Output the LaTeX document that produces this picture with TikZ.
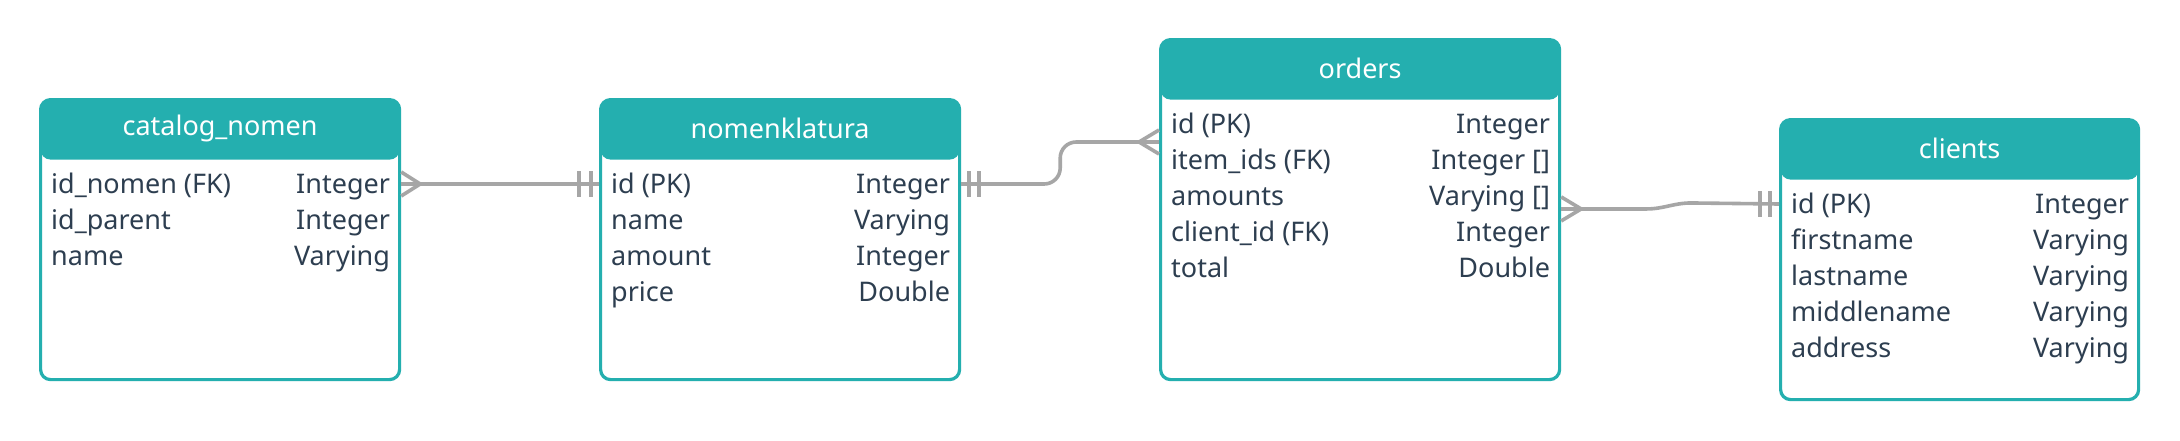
\documentclass[tikz,border=0pt]{standalone}
\usepackage{fontspec}
\setmainfont{Noto Sans}
\usetikzlibrary{calc}
\definecolor{erteal}{HTML}{24AFAF}
\definecolor{erink}{HTML}{2D3E50}
\definecolor{erline}{HTML}{A6A6A6}
\begin{document}
\begin{tikzpicture}[x=1pt, y=-1pt, font=\fontsize{27}{32}\selectfont,
  tbl/.style={draw=erteal, line width=3.2pt, rounded corners=10pt, fill=white, anchor=north west, inner sep=0pt,
    path picture={\fill[erteal] (path picture bounding box.north west) rectangle ([yshift=-60pt]path picture bounding box.north east);}},
  ttl/.style={text=white, inner sep=0pt},
  fld/.style={text=erink, inner sep=0pt, text height=19.3pt, text depth=0pt},
  rel/.style={draw=erline, line width=3.6pt}]

\path[use as bounding box, fill=white] (0,0) rectangle (2180,440);

\node[tbl, minimum width=359pt, minimum height=280pt] (cat) at (39,98) {};
\node[ttl] (cat-h) at ([yshift=-30pt]cat.north) {catalog\_nomen};
\foreach \fn/\ty [count=\i] in {id\_nomen (FK)/Integer, id\_parent/Integer, name/Varying}{
  \node[fld, anchor=west] (cat-\i) at ([xshift=12pt, yshift=-50pt-36pt*\i]cat.north west) {\fn};
  \node[fld, anchor=east] (cat-t\i) at ([xshift=-11pt, yshift=-50pt-36pt*\i]cat.north east) {\ty};
}

\node[tbl, minimum width=359pt, minimum height=280pt] (nom) at (599,98) {};
\node[ttl] (nom-h) at ([yshift=-30pt]nom.north) {nomenklatura};
\foreach \fn/\ty [count=\i] in {id (PK)/Integer, name/Varying, amount/Integer, price/Double}{
  \node[fld, anchor=west] (nom-\i) at ([xshift=12pt, yshift=-50pt-36pt*\i]nom.north west) {\fn};
  \node[fld, anchor=east] (nom-t\i) at ([xshift=-11pt, yshift=-50pt-36pt*\i]nom.north east) {\ty};
}

\node[tbl, minimum width=399pt, minimum height=340pt] (ord) at (1159,38) {};
\node[ttl] (ord-h) at ([yshift=-30pt]ord.north) {orders};
\foreach \fn/\ty [count=\i] in {id (PK)/Integer, item\_ids (FK)/Integer [], amounts/Varying [], client\_id (FK)/Integer, total/Double}{
  \node[fld, anchor=west] (ord-\i) at ([xshift=12pt, yshift=-50pt-36pt*\i]ord.north west) {\fn};
  \node[fld, anchor=east] (ord-t\i) at ([xshift=-11pt, yshift=-50pt-36pt*\i]ord.north east) {\ty};
}

\node[tbl, minimum width=358pt, minimum height=280pt] (cli) at (1779,118) {};
\node[ttl] (cli-h) at ([yshift=-30pt]cli.north) {clients};
\foreach \fn/\ty [count=\i] in {id (PK)/Integer, firstname/Varying, lastname/Varying, middlename/Varying, address/Varying}{
  \node[fld, anchor=west] (cli-\i) at ([xshift=12pt, yshift=-50pt-36pt*\i]cli.north west) {\fn};
  \node[fld, anchor=east] (cli-t\i) at ([xshift=-11pt, yshift=-50pt-36pt*\i]cli.north east) {\ty};
}

\coordinate (ord-l) at ($(ord-1.west)!.5!(ord-2.west)$);
\coordinate (ord-r) at ($(ord-3.west)!.36!(ord-4.west)$);

\draw[rel] (cat.east |- cat-1) -- (nom.west |- nom-1);
\draw[rel] ($(cat.east |- cat-1)+(0,-12)$) -- ++(19,12) -- ++(-19,12);
\draw[rel] ($(nom.west |- nom-1)+(-20,-13)$) -- ++(0,26) ++(12,-26) -- ++(0,26);

\draw[rel, rounded corners=16pt] (nom.east |- nom-1) -- ++(99,0) |- (ord.west |- ord-l);
\draw[rel] ($(nom.east |- nom-1)+(8,-13)$) -- ++(0,26) ++(10,-26) -- ++(0,26);
\draw[rel] ($(ord.west |- ord-l)+(0,-12)$) -- ++(-20,12) -- ++(20,12);

\draw[rel] (ord.east |- ord-r) -- ++(85,0) to[out=0,in=180] ++(45,-6) -- (cli.west |- cli-1);
\draw[rel] ($(ord.east |- ord-r)+(0,-12)$) -- ++(20,12) -- ++(-20,12);
\draw[rel] ($(cli.west |- cli-1)+(-19,-13)$) -- ++(0,26) ++(10,-26) -- ++(0,26);
\end{tikzpicture}
\end{document}
